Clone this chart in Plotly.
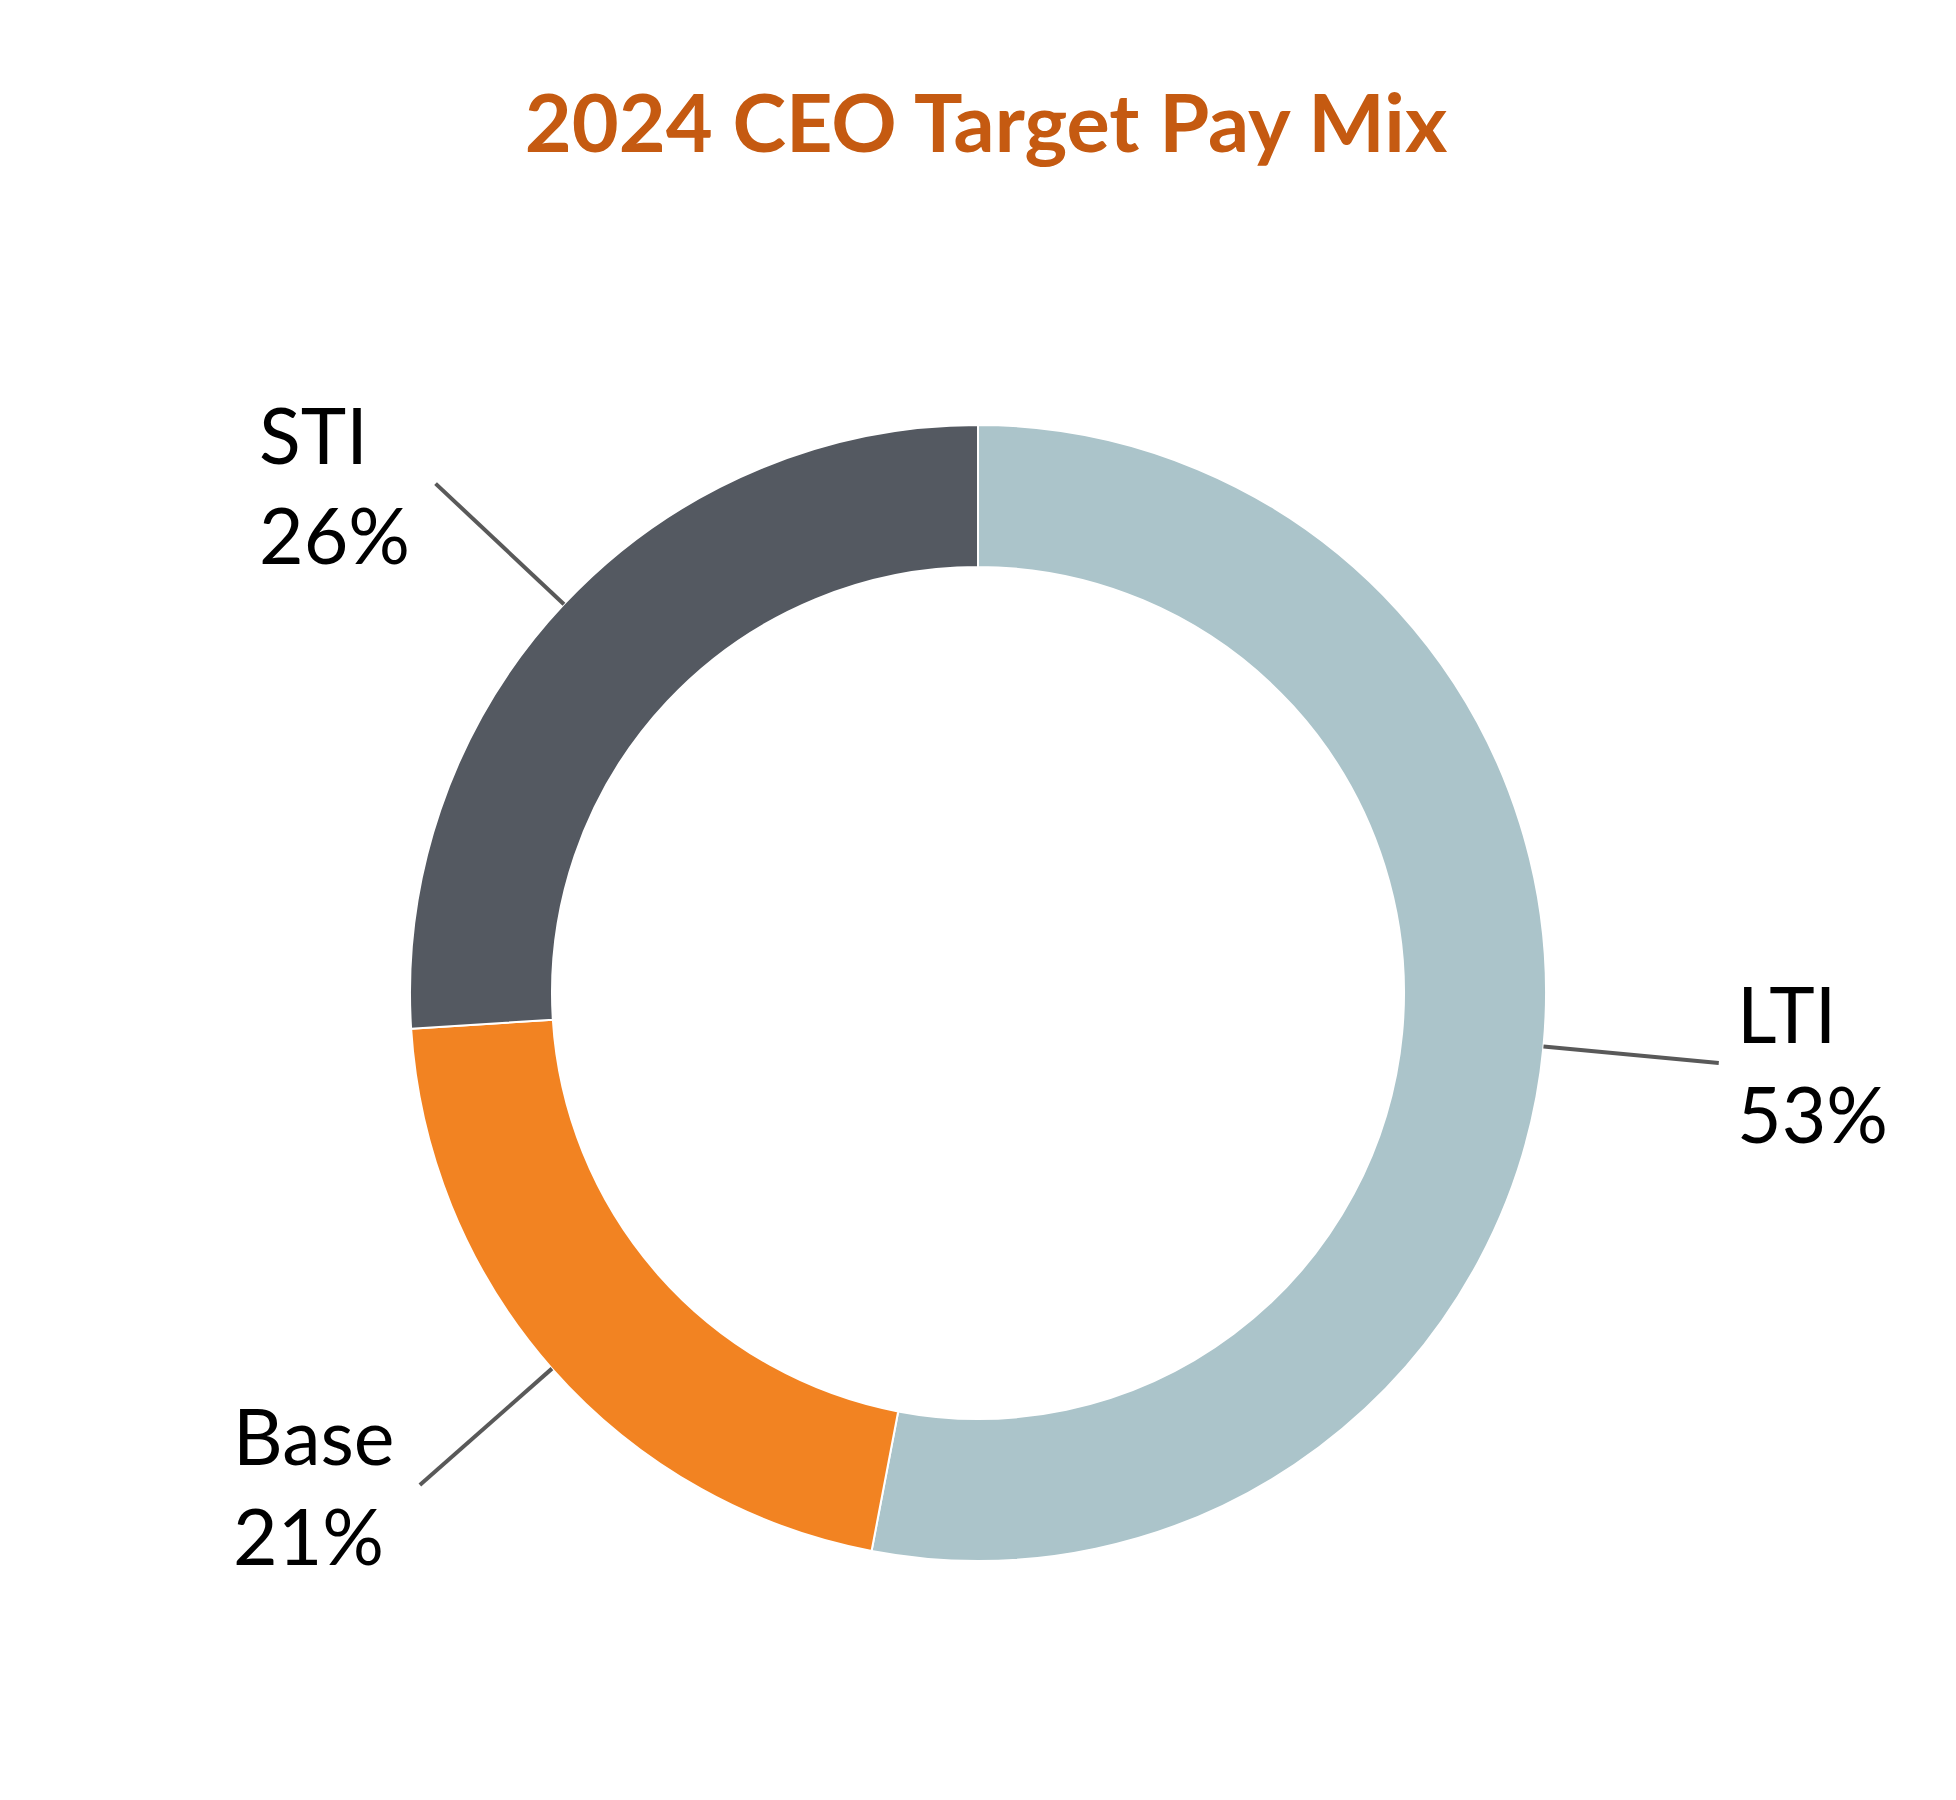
import math
import plotly.graph_objects as go

labels = ["LTI", "Base", "STI"]
values = [53, 21, 26]
colors = ["#ABC4CA", "#F28322", "#545961"]
title_text = "2024 CEO Target Pay Mix"

W, H = 1956, 1800
CX, CY = 970, 985       # donut centre in pixels (from top)
R = 568                 # outer radius in pixels
LINE_OUT = 1.31         # leader line end, as a share of R
FONT = "Lato, DejaVu Sans, sans-serif"

fig = go.Figure()
fig.add_trace(go.Pie(
    labels=labels, values=values,
    hole=0.75, sort=False, direction="clockwise", rotation=0,
    marker=dict(colors=colors, line=dict(color="white", width=2)),
    textinfo="none", hoverinfo="label+percent", showlegend=False,
    domain=dict(x=[(CX - R) / W, (CX + R) / W],
                y=[(H - CY - R) / H, (H - CY + R) / H]),
))


def px(x, y):
    return x / W, 1 - y / H


total = sum(values)
start = 0.0
shapes, annotations = [], []
for lab, v in zip(labels, values):
    mid = math.radians((start + v / 2) / total * 360)
    start += v
    dx, dy = math.sin(mid), -math.cos(mid)
    x0, y0 = CX + R * dx, CY + R * dy
    x1, y1 = CX + R * LINE_OUT * dx, CY + R * LINE_OUT * dy
    a0, b0 = px(x0, y0)
    a1, b1 = px(x1, y1)
    shapes.append(dict(type="line", xref="paper", yref="paper",
                       x0=a0, y0=b0, x1=a1, y1=b1,
                       line=dict(color="#595959", width=4)))
    right = dx > 0
    tx, ty = px(x1 + (16 if right else -24), y1)
    annotations.append(dict(
        x=tx, y=ty, xref="paper", yref="paper",
        text=f"{lab}<br>{v}%", showarrow=False,
        xanchor="left" if right else "right", yanchor="middle", align="left",
        font=dict(family=FONT, size=77, color="black"),
    ))

fig.update_layout(
    width=W, height=H,
    margin=dict(l=0, r=0, t=0, b=0),
    paper_bgcolor="white", plot_bgcolor="white",
    title=dict(text=f"<b>{title_text}</b>", x=0.5, xanchor="center",
               y=1 - 116 / H, yanchor="middle",
               font=dict(family=FONT, size=81, color="#C55A11")),
    shapes=shapes,
    annotations=annotations,
)

fig.write_html("out.html")
